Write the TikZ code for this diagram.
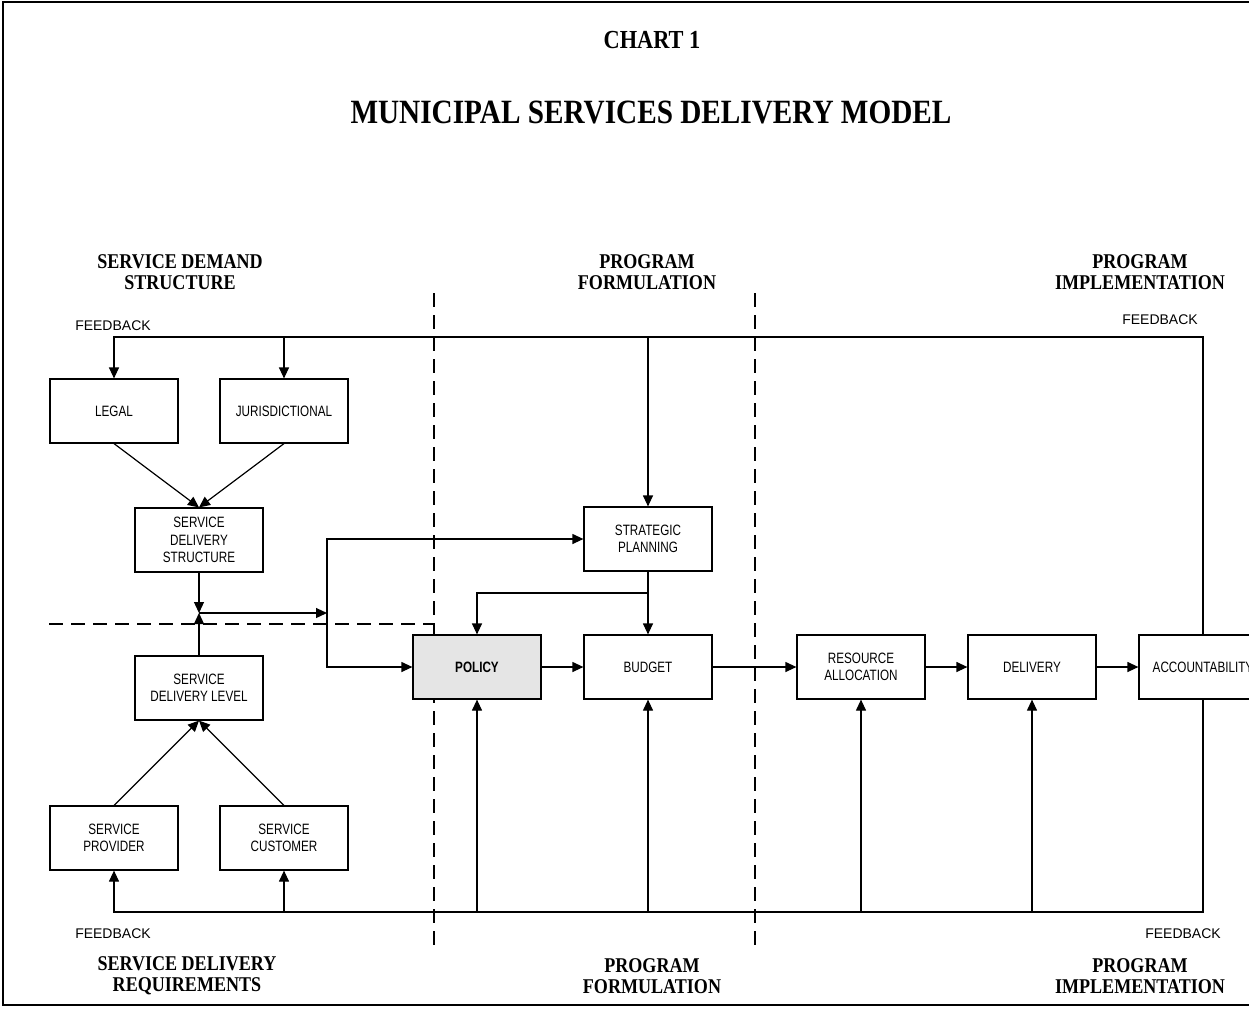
\documentclass[tikz,border=0pt]{standalone}
\usepackage{fontspec}
\setmainfont{Liberation Serif}
\newfontfamily\headfont[FakeStretch=0.86]{Liberation Serif}
\newfontfamily\boxfont[FakeStretch=0.78]{Liberation Sans}
\newfontfamily\fbfont{Liberation Sans}
\usetikzlibrary{arrows.meta}
\tikzset{
    >={Triangle[length=5.5pt,width=5pt]},
    block/.style={draw,line width=0.6pt,minimum width=64pt,minimum height=32pt,inner sep=1pt,align=center,font=\boxfont\fontsize{7.5}{8.7}\selectfont},
    heading/.style={align=center,font=\headfont\bfseries\fontsize{10.5}{10.5}\selectfont},
    fb/.style={font=\fbfont\fontsize{7}{8}\selectfont},
    link/.style={line width=0.6pt},
    divider/.style={line width=0.8pt,dash pattern=on 7pt off 4pt}
}

\begin{document}
\begin{tikzpicture}[x=0.5pt,y=-0.5pt]
  \useasboundingbox (0,0) rectangle (1249,1009);
  \clip (0,0) rectangle (1249,1009);
  \draw[line width=1pt,fill=white] (3,2) rectangle (1280,1005);

  \node[font=\headfont\bfseries\fontsize{13}{14}\selectfont] (chart) at (652,40) {CHART 1};
  \node[font=\headfont\bfseries\fontsize{17}{18}\selectfont] (title) at (651,112) {MUNICIPAL SERVICES DELIVERY MODEL};

  \node[heading] (hdemand) at (180,272) {SERVICE DEMAND\\STRUCTURE};
  \node[heading] (hform) at (647,272) {PROGRAM\\FORMULATION};
  \node[heading] (himpl) at (1140,272) {PROGRAM\\IMPLEMENTATION};
  \node[heading] (hreq) at (187,976) {SERVICE DELIVERY\\REQUIREMENTS};
  \node[heading] (hformb) at (652,976) {PROGRAM\\FORMULATION};
  \node[heading] (himplb) at (1140,976) {PROGRAM\\IMPLEMENTATION};

  \node[fb] (fbtl) at (113,326) {FEEDBACK};
  \node[fb] (fbtr) at (1160,320) {FEEDBACK};
  \node[fb] (fbbl) at (113,934) {FEEDBACK};
  \node[fb] (fbbr) at (1183,934) {FEEDBACK};

  \draw[divider] (434,293) -- (434,952);
  \draw[divider] (755,293) -- (755,952);
  \draw[divider] (49,624) -- (434,624);

  \node[block] (legal) at (114,411) {LEGAL};
  \node[block] (juris) at (284,411) {JURISDICTIONAL};
  \node[block] (sds) at (199,540) {SERVICE\\DELIVERY\\STRUCTURE};
  \node[block] (sdl) at (199,688) {SERVICE\\DELIVERY LEVEL};
  \node[block] (provider) at (114,838) {SERVICE\\PROVIDER};
  \node[block] (customer) at (284,838) {SERVICE\\CUSTOMER};
  \node[block] (strat) at (648,539) {STRATEGIC\\PLANNING};
  \node[block,fill=black!10,font=\boxfont\bfseries\fontsize{7.5}{8.7}\selectfont] (policy) at (477,667) {POLICY};
  \node[block] (budget) at (648,667) {BUDGET};
  \node[block] (resalloc) at (861,667) {RESOURCE\\ALLOCATION};
  \node[block] (delivery) at (1032,667) {DELIVERY};
  \node[block] (acct) at (1203,667) {ACCOUNTABILITY};

  \coordinate (fbtop) at (114,337);
  \coordinate (fbbot) at (114,912);
  \coordinate (jn) at (199,613);
  \coordinate (split) at (327,613);
  \coordinate (branch) at (648,593);

  \draw[link,->] (acct.north) |- (fbtop) -- (legal.north);
  \draw[link,->] (juris.north |- fbtop) -- (juris.north);
  \draw[link,->] (strat.north |- fbtop) -- (strat.north);
  \draw[link,->] (acct.south) |- (fbbot) -- (provider.south);
  \foreach \n in {customer,policy,budget,resalloc,delivery}
    \draw[link,->] (\n.south |- fbbot) -- (\n.south);

  \draw[link,->] (legal.south) -- (sds.north);
  \draw[link,->] (juris.south) -- (sds.north);
  \draw[link,->] (provider.north) -- (sdl.south);
  \draw[link,->] (customer.north) -- (sdl.south);
  \draw[link,->] (sds.south) -- (jn);
  \draw[link,->] (sdl.north) -- (jn);
  \draw[link,->] (jn) -- (split);
  \draw[link,->] (split) |- (strat.west);
  \draw[link,->] (split) |- (policy.west);

  \draw[link,->] (strat.south) -- (budget.north);
  \draw[link,->] (branch) -| (policy.north);
  \draw[link,->] (policy) -- (budget);
  \draw[link,->] (budget) -- (resalloc);
  \draw[link,->] (resalloc) -- (delivery);
  \draw[link,->] (delivery) -- (acct);
\end{tikzpicture}
\end{document}
